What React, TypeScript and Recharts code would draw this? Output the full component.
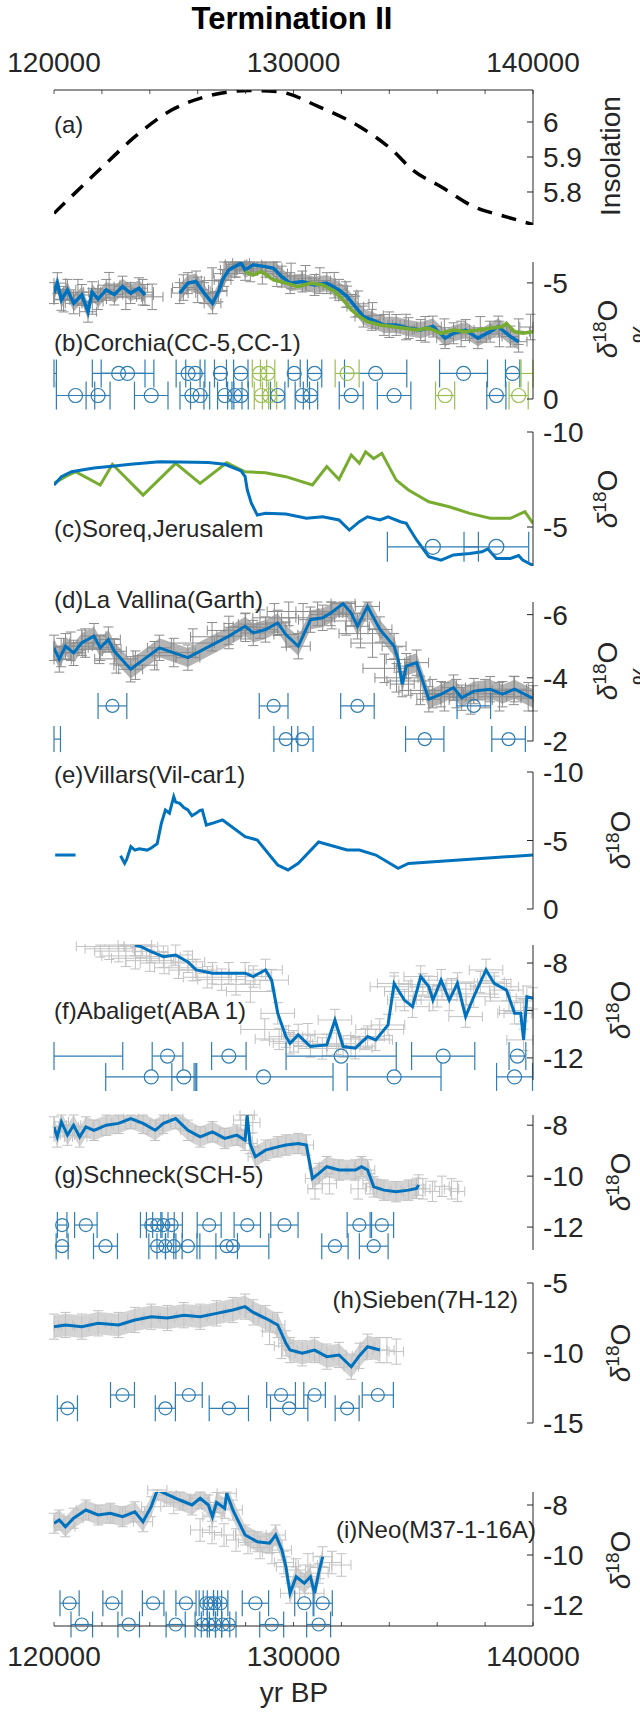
import React from "react";
import { ComposedChart, Line, Area, Scatter, ErrorBar, XAxis, YAxis } from "recharts";

const W = 640;
const H = 1713;
const PLOT_LEFT = 54;
const PLOT_RIGHT = 533;
const TOP_AXIS_Y = 90;
const BOTTOM_AXIS_Y = 1626;
const Y_AXIS_W = 60;
const AXIS_H = 60;
const FONT = "'Liberation Sans', Arial, Helvetica, sans-serif";
const INK = "#262626";
const BLUE = "#0072BD";
const GREEN = "#77AC30";
const MARK_BLUE = "#2f7db3";
const MARK_GREEN = "#9cbf52";
const DARK_GREY = "#8c8c8c";
const DARK_BAND = "#b3b3b3";
const LIGHT_GREY = "#c2c2c2";
const LIGHT_BAND = "#d4d4d4";

const X_DOMAIN: [number, number] = [120000, 140000];
const X_TICKS = [120000, 122000, 124000, 126000, 128000, 130000, 132000, 134000, 136000, 138000, 140000];

// y-limits of each panel
const DOM_A: [number, number] = [5.7057, 6.0914];
const DOM_B: [number, number] = [-5.9, 0];
const DOM_C: [number, number] = [-10, -2.95];
const DOM_D: [number, number] = [-6.4, -2];
const DOM_E: [number, number] = [-10, 0];
const DOM_F: [number, number] = [-12.93, -7.24];
const DOM_G: [number, number] = [-12.9, -7.6];
const DOM_H: [number, number] = [-15, -5];
const DOM_I: [number, number] = [-12.84, -7.48];

// (a) insolation
const insolT = [120000, 122180, 123380, 124910, 126270, 128150, 129340, 131050, 132750, 134120, 134970, 136160, 137530, 138890, 140000];
const insolV = [5.739, 5.882, 5.958, 6.034, 6.071, 6.09, 6.087, 6.044, 5.987, 5.92, 5.863, 5.815, 5.758, 5.729, 5.707];

// (b) Corchia CC-5 (two pieces) and CC-1
const cc5T1 = [120000, 120140, 120310, 120560, 120820, 121160, 121420, 121590, 121840, 122180, 122520, 122860, 123200, 123550, 123800];
const cc5V1 = [-4.56, -4.99, -4.27, -4.7, -4.12, -4.48, -3.76, -4.6, -4.3, -4.7, -4.5, -4.84, -4.56, -4.77, -4.48];
const cc5T2 = [125250, 125590, 125930, 126270, 126620, 126870, 127040, 127300, 127550, 127810, 127980, 128320, 128830, 129170, 129510, 129860, 130370, 130880, 131390, 131900, 132240, 132580, 132920, 133270, 133780, 134290, 134800, 135310, 135820, 136330, 136680, 137190, 137700, 138210, 138550, 139060, 139400];
const cc5V2 = [-4.56, -4.99, -5.06, -4.56, -4.12, -4.63, -5.13, -5.56, -5.7, -5.85, -5.56, -5.78, -5.7, -5.63, -5.27, -4.99, -5.06, -4.91, -4.99, -4.7, -4.41, -3.98, -3.55, -3.41, -3.19, -3.19, -3.05, -2.97, -3.12, -2.62, -2.83, -2.97, -2.62, -2.9, -3.12, -2.69, -2.47];
const cc1T = [127980, 128320, 128660, 129170, 129680, 130200, 130710, 131220, 131730, 132070, 132410, 132750, 133090, 133610, 134120, 134630, 135140, 135650, 136160, 136680, 137190, 137700, 138210, 138720, 138890, 139230, 139570, 140000];
const cc1V = [-5.49, -5.34, -5.49, -5.13, -4.99, -4.84, -4.99, -4.91, -4.63, -4.27, -3.84, -3.55, -3.33, -3.19, -3.12, -3.05, -2.97, -3.05, -2.83, -2.97, -2.9, -2.97, -3.05, -3.12, -3.26, -2.9, -2.83, -2.9];
const corchiaGreyT = [120400, 121000, 121600, 122300, 123000, 123700, 124100, 125400, 126000, 126600, 127100, 127600, 128200, 128700, 129300, 129900, 130500, 131100, 131700, 132200, 132700, 133300, 134000, 134700, 135500, 136300, 137000, 137800, 138600, 139400, 139900];
const corchiaGreyV = [-4.3, -4.6, -4.2, -4.9, -4.4, -4.6, -4.4, -4.8, -4.7, -5.1, -5.4, -5.8, -5.6, -5.5, -5.4, -5.3, -5.2, -5.1, -4.9, -4.5, -4.1, -3.6, -3.2, -3.1, -3.0, -2.9, -2.8, -3.0, -2.8, -2.9, -3.1];
const cc5AgeT1 = [122700, 123070, 125600, 125900, 126950, 127800, 130030, 130880, 133430, 137100, 139150];
const cc5AgeE1 = [1100, 1100, 500, 400, 250, 300, 250, 300, 1300, 1000, 300];
const cc1AgeT1 = [128580, 128920, 132240];
const cc1AgeE1 = [300, 300, 500];
const cc5AgeT2 = [120900, 121840, 124060, 125760, 126100, 127130, 127550, 127810, 129340, 130370, 130710, 132410, 134200, 138470];
const cc5AgeE2 = [800, 500, 700, 500, 400, 300, 300, 300, 300, 300, 300, 500, 700, 400];
const cc1AgeT2 = [128660, 129000, 136330, 139400];
const cc1AgeE2 = [300, 300, 400, 400];
// whisker ends of dates whose centres lie outside the window: [below, above] the edge year
const cc5StubT = [120000];
const cc5StubE = [[0, 100]];
const cc1StubT = [140000];
const cc1StubE = [[500, 0]];

// (c) Soreq and Jerusalem
const soreqT = [120000, 120310, 120730, 121160, 121670, 122520, 123200, 124400, 125250, 126450, 127130, 127810, 127980, 128070, 128240, 128490, 128830, 129680, 130540, 131220, 131900, 132330, 132750, 133090, 133610, 133950, 134460, 134710, 134800, 135140, 135650, 136160, 136680, 137360, 137870, 138120, 138470, 139060, 139400, 139570, 140000];
const soreqV = [-7.21, -7.65, -7.91, -8.0, -8.1, -8.21, -8.3, -8.44, -8.42, -8.4, -8.3, -7.95, -7.65, -6.95, -6.25, -5.63, -5.72, -5.68, -5.46, -5.54, -5.37, -4.84, -5.28, -5.54, -5.37, -5.54, -5.28, -5.2, -5.0, -4.32, -3.44, -3.26, -3.53, -3.61, -3.7, -3.85, -3.35, -3.35, -3.5, -3.26, -2.98];
const jerusalemT = [120000, 120480, 120900, 121930, 122440, 123720, 125080, 126100, 127210, 127980, 128830, 129680, 130790, 131390, 131900, 132410, 132750, 133010, 133350, 133690, 134290, 134800, 135650, 136500, 137360, 138210, 139060, 139660, 140000];
const jerusalemV = [-7.3, -7.65, -7.91, -7.21, -8.3, -6.68, -8.35, -7.3, -8.38, -7.91, -7.86, -7.65, -7.21, -8.18, -7.5, -8.79, -8.35, -8.96, -8.6, -8.88, -7.47, -6.95, -6.33, -6.07, -5.72, -5.46, -5.46, -5.81, -5.19];
const soreqAgeT = [135820, 138470];
const soreqAgeE = [1900, 1350];

// (d) La Vallina
const vallinaT = [120000, 120220, 120480, 120820, 121160, 121670, 121930, 122270, 122520, 123200, 124400, 125590, 127300, 127980, 128320, 128830, 129340, 129680, 130200, 130710, 131220, 131560, 132070, 132410, 132670, 133090, 133610, 134200, 134370, 134540, 134710, 135140, 135650, 136160, 136680, 137020, 137530, 138210, 138720, 139230, 140000];
const vallinaV = [-4.95, -4.58, -5.0, -4.79, -5.11, -5.32, -4.95, -5.21, -4.84, -4.27, -4.95, -4.64, -5.32, -5.63, -5.42, -5.53, -5.74, -5.37, -5.0, -5.84, -5.9, -6.05, -6.35, -6.05, -5.63, -6.26, -5.53, -5.0, -4.58, -3.8, -4.37, -4.48, -3.32, -3.48, -3.69, -3.37, -3.58, -3.64, -3.48, -3.64, -3.35];
const vallinaGreyT = [120300, 120700, 121300, 121900, 122600, 123400, 124200, 125000, 125800, 126600, 127300, 128000, 128600, 129200, 129800, 130400, 131000, 131600, 132200, 132800, 133300, 133800, 134300, 134800, 135300, 135800, 136300, 136800, 137400, 138000, 138600, 139200, 139800];
const vallinaGreyV = [-4.8, -5.0, -5.1, -4.9, -4.6, -4.4, -4.7, -4.8, -5.1, -5.3, -5.5, -5.6, -5.7, -5.9, -6.1, -5.9, -6.1, -6.0, -5.8, -5.4, -5.1, -4.3, -4.0, -3.9, -3.6, -3.5, -3.4, -3.5, -3.3, -3.5, -3.4, -3.6, -3.4];
const vallinaAgeT1 = [122440, 129170, 132670, 137530];
const vallinaAgeE1 = [600, 600, 700, 700];
const vallinaAgeT2 = [129680, 130370, 135480, 138980];
const vallinaAgeE2 = [500, 450, 800, 700];
const vallinaStubT = [120000];
const vallinaStubE = [[0, 270]];

// (e) Villars
const villarsT1 = [120050, 120900];
const villarsV1 = [-3.94, -3.94];
const villarsT2 = [122780, 122950, 123030, 123210, 123380, 123550, 123890, 124060, 124310, 124480, 124650, 124820, 125000, 125080, 125250, 125420, 125590, 125760, 125930, 126100, 126190, 126360, 126700, 127040, 127980, 128490, 129340, 129770, 130200, 131050, 132240, 132750, 133440, 134370, 134800, 140000];
const villarsV2 = [-3.89, -3.33, -3.6, -4.55, -4.3, -4.4, -4.3, -4.45, -4.77, -6.24, -7.23, -7.0, -8.2, -7.8, -7.71, -7.4, -7.23, -6.8, -6.98, -7.2, -7.23, -6.13, -6.3, -6.5, -5.28, -5.04, -3.21, -2.85, -3.33, -4.89, -4.31, -4.31, -3.94, -2.97, -3.33, -3.94];

// (f) Abaliget
const abaT = [123376, 123632, 124058, 124569, 125081, 125592, 125933, 126615, 127297, 127979, 128320, 128832, 129088, 129343, 129684, 129855, 130196, 130707, 131389, 131730, 132071, 132583, 133094, 133435, 133947, 134202, 134629, 134970, 135311, 135652, 135822, 136163, 136504, 136845, 137186, 137527, 138039, 138380, 138891, 139232, 139488, 139607, 139744, 140000];
const abaV = [-7.24, -7.31, -7.52, -7.73, -7.66, -7.95, -8.29, -8.43, -8.43, -8.43, -8.57, -8.29, -8.72, -10.12, -11.1, -11.38, -11.03, -11.52, -11.45, -10.4, -11.52, -11.59, -11.1, -11.24, -10.61, -8.86, -9.56, -9.84, -8.57, -9.0, -9.56, -8.72, -9.56, -8.86, -10.26, -9.42, -8.29, -8.86, -9.14, -10.12, -10.12, -11.24, -9.42, -9.49];
const abaGreyT = [121930, 122300, 122700, 123000, 123400, 124000, 124600, 125200, 125800, 126400, 127000, 127600, 128200, 128800, 129400, 130000, 130600, 131200, 131800, 132400, 133000, 133600, 134200, 134800, 135400, 136000, 136600, 137200, 137800, 138400, 139000, 139600];
const abaGreyV = [-7.3, -7.4, -7.5, -7.7, -7.8, -7.9, -8.0, -8.2, -8.3, -8.6, -8.7, -8.9, -9.2, -10.8, -11.2, -11.3, -11.0, -11.6, -11.4, -11.5, -11.2, -10.8, -9.0, -9.2, -8.9, -9.4, -9.1, -9.3, -8.8, -9.0, -9.6, -10.0];
const abaAgeT1 = [124740, 127300, 131990, 136250, 139350];
const abaAgeE1 = [640, 720, 2300, 1320, 350];
const abaAgeT2 = [124060, 125420, 128750, 134200, 139230];
const abaAgeE2 = [1900, 500, 2900, 1960, 750];
const abaStubT = [120000];
const abaStubE = [[0, 2870]];

// (g) Schneck
const schT = [120000, 120136, 120307, 120563, 120818, 121074, 121330, 121671, 122182, 122694, 123205, 123717, 124228, 124569, 125081, 125592, 126104, 126615, 127127, 127638, 127979, 128065, 128184, 128406, 128832, 129343, 129684, 130196, 130537, 130793, 131048, 131389, 131901, 132583, 132839, 133094, 133350, 133776, 134288, 134799, 135140, 135226];
const schV = [-8.07, -8.46, -7.87, -8.39, -8.0, -8.46, -8.07, -8.2, -8.0, -7.93, -7.74, -7.93, -8.2, -7.93, -7.74, -8.2, -8.46, -8.26, -8.52, -8.39, -8.59, -7.61, -8.72, -9.24, -8.98, -8.85, -8.78, -8.72, -8.78, -10.09, -9.9, -9.63, -9.76, -9.76, -9.63, -9.76, -10.42, -10.55, -10.61, -10.55, -10.48, -10.35];
const schGreyT = [127800, 128300, 130900, 131500, 132700, 133200, 135400, 135800, 136200, 136600, 136850];
const schGreyV = [-7.8, -7.9, -10.5, -10.3, -10.5, -10.3, -10.5, -10.6, -10.4, -10.5, -10.6];
const schAgeT1 = [120340, 121330, 124060, 124310, 124570, 124910, 126480, 128070, 129620, 132750, 133690];
const schAgeE1 = [200, 470, 450, 450, 450, 450, 500, 550, 570, 510, 490];
const schAgeT2 = [120340, 122150, 124310, 124650, 125000, 125590, 127210, 127470, 131730, 133350];
const schAgeE2 = [250, 500, 350, 350, 350, 500, 450, 1500, 550, 600];

// (h) Sieben
const siebenT = [120000, 120477, 121159, 121841, 122694, 123376, 124058, 124740, 125422, 126104, 126786, 127468, 127979, 128320, 128832, 129343, 129684, 129855, 130366, 130878, 131389, 131901, 132412, 132753, 133094, 133606];
const siebenV = [-8.12, -8.0, -8.12, -7.88, -8.0, -7.64, -7.41, -7.5, -7.3, -7.41, -7.17, -6.93, -6.69, -7.1, -7.52, -8.0, -9.31, -9.79, -10.02, -9.79, -10.26, -10.14, -10.98, -10.2, -9.55, -9.79];
const siebenGreyT = [129000, 129500, 133900, 134290];
const siebenGreyV = [-8.5, -9.5, -9.8, -9.9];
const siebenAgeT1 = [122860, 125630, 129480, 130880, 133520];
const siebenAgeE1 = [500, 560, 600, 450, 650];
const siebenAgeT2 = [120560, 124650, 127300, 129820, 132240];
const siebenAgeE2 = [420, 420, 820, 780, 500];

// (i) Neo
const neoT = [120000, 120222, 120477, 120818, 121330, 121841, 122353, 122864, 123376, 123717, 124058, 124314, 125251, 125763, 126104, 126445, 126615, 126786, 127127, 127212, 127468, 127979, 128491, 129002, 129258, 129514, 129684, 129855, 130111, 130452, 130707, 130878, 131048, 131219];
const neoV = [-8.73, -8.6, -8.87, -8.53, -8.2, -8.4, -8.33, -8.47, -8.27, -8.67, -8.07, -7.4, -7.8, -8.0, -7.73, -8.0, -8.47, -7.9, -8.13, -7.53, -8.2, -9.2, -9.47, -9.53, -9.2, -9.8, -10.47, -11.53, -10.87, -11.13, -10.87, -11.53, -10.73, -10.07];
const neoGreyT = [124700, 125000, 126100, 126600, 127100, 127600, 128100, 128600, 129100, 129600, 130100, 130600, 131100, 131600, 132000];
const neoGreyV = [-7.6, -7.9, -9.0, -9.1, -9.2, -9.4, -9.5, -9.7, -9.9, -10.3, -10.6, -10.4, -10.5, -10.3, -10.4];
const neoAgeT1 = [120650, 122440, 124140, 125510, 126360, 126530, 126700, 126960, 128410, 130450, 131220];
const neoAgeE1 = [400, 400, 450, 420, 300, 300, 300, 300, 550, 400, 400];
const neoAgeT2 = [121160, 123120, 125080, 126190, 126450, 126700, 127040, 127300, 129090, 131050];
const neoAgeE2 = [450, 450, 400, 300, 300, 300, 300, 300, 500, 500];

// helpers that shape the arrays into row objects
const series = (ts: number[], vs: number[]) => ts.map((t, i) => ({ t, v: vs[i] }));
// error crosses, trimmed so that no whisker leaves the panel frame
const cloud = (ts: number[], vs: number[], dv: number, dt: number, dom: [number, number]) =>
  ts.map((t, i) => ({
    t,
    v: vs[i],
    ey: [Math.max(0, Math.min(dv, vs[i] - dom[0])), Math.max(0, Math.min(dv, dom[1] - vs[i]))],
    ex: [Math.min(dt, t - X_DOMAIN[0]), Math.min(dt, X_DOMAIN[1] - t)],
  }));
const band = (ts: number[], vs: number[], dv: number) =>
  ts.map((t, i) => ({ t, band: [vs[i] - dv, vs[i] + dv] }));
const dated = (ts: number[], errs: any[], v: number) => ts.map((t, i) => ({ t, v, ex: errs[i] }));

const noShape = () => <g />;
const ring = (r: number, color: string) => (p: any) =>
  <circle cx={p.cx} cy={p.cy} r={r} fill="none" stroke={color} strokeWidth={1.2} />;

const trace = (data: any[], color: string, width = 3) => (
  <Line xAxisId="main" yAxisId="main" data={data} dataKey="v" type="linear" stroke={color}
    strokeWidth={width} dot={false} activeDot={false} isAnimationActive={false} />
);

const shade = (data: any[], fill: string) => (
  <Area xAxisId="main" yAxisId="main" data={data} dataKey="band" type="linear" stroke="none"
    fill={fill} fillOpacity={1} isAnimationActive={false} />
);

const whiskers = (data: any[], color: string) => (
  <Scatter xAxisId="main" yAxisId="main" data={data} dataKey="v" shape={noShape} isAnimationActive={false}>
    <ErrorBar dataKey="ey" direction="y" width={5} stroke={color} strokeWidth={1} />
    <ErrorBar dataKey="ex" direction="x" width={5} stroke={color} strokeWidth={1} />
  </Scatter>
);

const ages = (data: any[], color: string, r = 6.5, marker = true) => (
  <Scatter xAxisId="free" yAxisId="free" data={data} dataKey="v"
    shape={marker ? ring(r, color) : noShape} isAnimationActive={false}>
    <ErrorBar dataKey="ex" direction="x" width={r * 2} stroke={color} strokeWidth={1.2} />
  </Scatter>
);

// tick marks point into the frame; labels sit outside it
function YTick({ y, payload }: any) {
  return (
    <g>
      <line x1={PLOT_RIGHT - 6} x2={PLOT_RIGHT} y1={y} y2={y} stroke={INK} strokeWidth={1} />
      <text x={PLOT_RIGHT + 10} y={y} dy={10} fontSize={28} fontFamily={FONT} fill={INK}>{payload.value}</text>
    </g>
  );
}

function TopTick({ x, payload }: any) {
  return (
    <g>
      <line x1={x} x2={x} y1={TOP_AXIS_Y} y2={TOP_AXIS_Y + 4} stroke={INK} strokeWidth={0.8} />
      {payload.value % 10000 === 0 && (
        <text x={x} y={TOP_AXIS_Y - 18} textAnchor="middle" fontSize={28} fontFamily={FONT} fill={INK}>{payload.value}</text>
      )}
    </g>
  );
}

function BottomTick({ x, payload }: any) {
  return (
    <g>
      <line x1={x} x2={x} y1={BOTTOM_AXIS_Y} y2={BOTTOM_AXIS_Y - 4} stroke={INK} strokeWidth={0.8} />
      {payload.value % 10000 === 0 && (
        <text x={x} y={BOTTOM_AXIS_Y + 40} textAnchor="middle" fontSize={28} fontFamily={FONT} fill={INK}>{payload.value}</text>
      )}
    </g>
  );
}

type PanelProps = {
  top: number;
  bottom: number;
  domain: [number, number];
  reversed?: boolean;
  ticks: number[];
  xAxis?: "top" | "bottom";
  children: React.ReactNode;
};

function Panel({ top, bottom, domain, reversed = false, ticks, xAxis, children }: PanelProps) {
  const margin = {
    top: xAxis === "top" ? top - AXIS_H : top,
    bottom: xAxis === "bottom" ? H - bottom - AXIS_H : H - bottom,
    left: PLOT_LEFT,
    right: W - PLOT_RIGHT - Y_AXIS_W,
  };
  return (
    <div style={{ position: "absolute", left: 0, top: 0 }}>
      <ComposedChart width={W} height={H} margin={margin}>
        <XAxis xAxisId="main" type="number" dataKey="t" domain={X_DOMAIN} allowDataOverflow
          hide={!xAxis} orientation={xAxis ?? "bottom"} height={AXIS_H} ticks={X_TICKS} interval={0}
          tickLine={false} tickSize={0} tickMargin={0} axisLine={{ stroke: INK, strokeWidth: 1 }}
          tick={xAxis === "top" ? TopTick : BottomTick} />
        <XAxis xAxisId="free" type="number" dataKey="t" domain={X_DOMAIN} hide height={0} />
        <YAxis yAxisId="main" orientation="right" type="number" dataKey="v" width={Y_AXIS_W}
          domain={domain} reversed={reversed} allowDataOverflow ticks={ticks} interval={0}
          tickLine={false} tickSize={0} tickMargin={0} axisLine={{ stroke: INK, strokeWidth: 1 }}
          tick={YTick} />
        <YAxis yAxisId="free" orientation="right" type="number" dataKey="v" domain={domain}
          reversed={reversed} hide width={0} />
        {children}
      </ComposedChart>
    </div>
  );
}

function Delta({ x, y, permil = false }: { x: number; y: number; permil?: boolean }) {
  return (
    <g>
      <text transform={`translate(${x},${y}) rotate(-90)`} textAnchor="middle" fontSize={28} fontFamily={FONT} fill={INK}>
        <tspan fontStyle="italic">δ</tspan>
        <tspan fontSize={19} dy={-11}>18</tspan>
        <tspan dy={11}>O</tspan>
      </text>
      {permil && (
        <text transform={`translate(${x + 35},${y}) rotate(-90)`} textAnchor="middle" fontSize={28} fontFamily={FONT} fill={INK}>‰</text>
      )}
    </g>
  );
}

function Annotations() {
  const t = { fontFamily: FONT, fill: INK, fontSize: 24 };
  return (
    <svg width={W} height={H} style={{ position: "absolute", left: 0, top: 0, pointerEvents: "none" }}>
      <text x={292} y={29} textAnchor="middle" fontSize={31} fontWeight="bold" fontFamily={FONT} fill="#000">Termination II</text>
      <text x={54} y={133} {...t}>(a)</text>
      <text x={54} y={351} {...t}>(b)Corchia(CC-5,CC-1)</text>
      <text x={54} y={537} {...t}>(c)Soreq,Jerusalem</text>
      <text x={54} y={608} {...t}>(d)La Vallina(Garth)</text>
      <text x={54} y={783} {...t}>(e)Villars(Vil-car1)</text>
      <text x={54} y={1019} {...t}>(f)Abaliget(ABA 1)</text>
      <text x={54} y={1183} {...t}>(g)Schneck(SCH-5)</text>
      <text x={518} y={1308} textAnchor="end" {...t}>(h)Sieben(7H-12)</text>
      <text x={536} y={1538} textAnchor="end" {...t}>(i)Neo(M37-1-16A)</text>
      <text transform="translate(620,156) rotate(-90)" textAnchor="middle" fontSize={28} fontFamily={FONT} fill={INK}>Insolation</text>
      <Delta x={617} y={329} permil />
      <Delta x={617} y={499} />
      <Delta x={617} y={671} permil />
      <Delta x={630} y={840} />
      <Delta x={630} y={1010} />
      <Delta x={630} y={1182} />
      <Delta x={630} y={1353} />
      <Delta x={630} y={1560} />
      <text x={294} y={1702} textAnchor="middle" fontSize={28} fontFamily={FONT} fill={INK}>yr BP</text>
    </svg>
  );
}

export default function App() {
  const corchiaGrey = cloud(cc5T1, cc5V1, 0.45, 350, DOM_B)
    .concat(cloud(cc5T2, cc5V2, 0.45, 350, DOM_B))
    .concat(cloud(corchiaGreyT, corchiaGreyV, 0.55, 450, DOM_B));
  const vallinaGrey = cloud(vallinaT, vallinaV, 0.4, 500, DOM_D)
    .concat(cloud(vallinaGreyT, vallinaGreyV, 0.45, 900, DOM_D));
  const abaGrey = cloud(abaT, abaV, 0.45, 700, DOM_F).concat(cloud(abaGreyT, abaGreyV, 0.45, 1000, DOM_F));
  const schGrey = cloud(schT, schV, 0.4, 300, DOM_G).concat(cloud(schGreyT, schGreyV, 0.4, 300, DOM_G));
  const siebenGrey = cloud(siebenT, siebenV, 0.9, 300, DOM_H).concat(cloud(siebenGreyT, siebenGreyV, 0.9, 300, DOM_H));
  const neoGrey = cloud(neoT, neoV, 0.4, 400, DOM_I).concat(cloud(neoGreyT, neoGreyV, 0.45, 400, DOM_I));

  return (
    <div style={{ position: "absolute", left: 0, top: 0, width: W, height: H, background: "#fff", overflow: "hidden" }}>
      <Panel top={TOP_AXIS_Y} bottom={225} domain={DOM_A} ticks={[5.8, 5.9, 6]} xAxis="top">
        <Line xAxisId="main" yAxisId="main" data={series(insolT, insolV)} dataKey="v" type="monotone"
          stroke="#000" strokeWidth={3.5} strokeDasharray="15 10" dot={false} activeDot={false} isAnimationActive={false} />
      </Panel>

      <Panel top={262} bottom={399} domain={DOM_B} reversed ticks={[-5, 0]}>
        {shade(band(cc5T1, cc5V1, 0.35), DARK_BAND)}
        {shade(band(cc5T2, cc5V2, 0.35), DARK_BAND)}
        {whiskers(corchiaGrey, DARK_GREY)}
        {trace(series(cc5T1, cc5V1), BLUE, 3.5)}
        {trace(series(cc5T2, cc5V2), BLUE, 3.5)}
        {trace(series(cc1T, cc1V), GREEN, 3.5)}
        {ages(dated(cc5AgeT1, cc5AgeE1, -1.1), MARK_BLUE, 7)}
        {ages(dated(cc1AgeT1, cc1AgeE1, -1.1), MARK_GREEN, 7)}
        {ages(dated(cc5StubT, cc5StubE, -1.1), MARK_BLUE, 7, false)}
        {ages(dated(cc1StubT, cc1StubE, -1.1), MARK_GREEN, 7, false)}
        {ages(dated(cc5AgeT2, cc5AgeE2, -0.15), MARK_BLUE, 7)}
        {ages(dated(cc1AgeT2, cc1AgeE2, -0.15), MARK_GREEN, 7)}
      </Panel>

      <Panel top={432} bottom={566} domain={DOM_C} reversed ticks={[-10, -5]}>
        {trace(series(jerusalemT, jerusalemV), GREEN, 3)}
        {trace(series(soreqT, soreqV), BLUE, 3)}
        {ages(dated(soreqAgeT, soreqAgeE, -3.96), MARK_BLUE, 7.5)}
      </Panel>

      <Panel top={602} bottom={741} domain={DOM_D} reversed ticks={[-6, -4, -2]}>
        {shade(band(vallinaT, vallinaV, 0.3), DARK_BAND)}
        {whiskers(vallinaGrey, DARK_GREY)}
        {trace(series(vallinaT, vallinaV), BLUE, 3)}
        {ages(dated(vallinaAgeT1, vallinaAgeE1, -3.11), MARK_BLUE)}
        {ages(dated(vallinaAgeT2, vallinaAgeE2, -2.06), MARK_BLUE)}
        {ages(dated(vallinaStubT, vallinaStubE, -2.06), MARK_BLUE, 6.5, false)}
      </Panel>

      <Panel top={772} bottom={909} domain={DOM_E} reversed ticks={[-10, -5, 0]}>
        {trace(series(villarsT1, villarsV1), BLUE, 3)}
        {trace(series(villarsT2, villarsV2), BLUE, 3)}
      </Panel>

      <Panel top={945} bottom={1080} domain={DOM_F} ticks={[-12, -10, -8]}>
        {whiskers(abaGrey, LIGHT_GREY)}
        {trace(series(abaT, abaV), BLUE, 3)}
        {ages(dated(abaAgeT1, abaAgeE1, -11.92), MARK_BLUE, 7)}
        {ages(dated(abaStubT, abaStubE, -11.92), MARK_BLUE, 7, false)}
        {ages(dated(abaAgeT2, abaAgeE2, -12.8), MARK_BLUE, 7)}
      </Panel>

      <Panel top={1115} bottom={1250} domain={DOM_G} ticks={[-12, -10, -8]}>
        {shade(band(schT, schV, 0.4), LIGHT_BAND)}
        {whiskers(schGrey, LIGHT_GREY)}
        {trace(series(schT, schV), BLUE, 3)}
        {ages(dated(schAgeT1, schAgeE1, -11.92), MARK_BLUE)}
        {ages(dated(schAgeT2, schAgeE2, -12.75), MARK_BLUE)}
      </Panel>

      <Panel top={1283} bottom={1423} domain={DOM_H} ticks={[-15, -10, -5]}>
        {shade(band(siebenT, siebenV, 0.8), LIGHT_BAND)}
        {whiskers(siebenGrey, LIGHT_GREY)}
        {trace(series(siebenT, siebenV), BLUE, 3)}
        {ages(dated(siebenAgeT1, siebenAgeE1, -13.0), MARK_BLUE)}
        {ages(dated(siebenAgeT2, siebenAgeE2, -13.95), MARK_BLUE)}
      </Panel>

      <Panel top={1492} bottom={BOTTOM_AXIS_Y} domain={DOM_I} ticks={[-12, -10, -8]} xAxis="bottom">
        {shade(band(neoT, neoV, 0.4), LIGHT_BAND)}
        {whiskers(neoGrey, LIGHT_GREY)}
        {trace(series(neoT, neoV), BLUE, 3)}
        {ages(dated(neoAgeT1, neoAgeE1, -11.93), MARK_BLUE)}
        {ages(dated(neoAgeT2, neoAgeE2, -12.78), MARK_BLUE)}
      </Panel>

      <Annotations />
    </div>
  );
}
